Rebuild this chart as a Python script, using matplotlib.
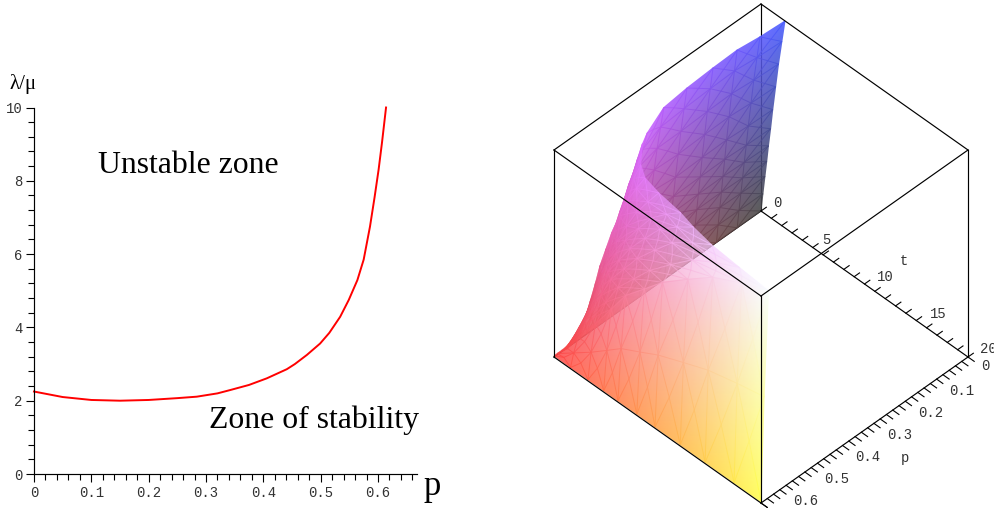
import numpy as np
import matplotlib
matplotlib.use("Agg")
import matplotlib.pyplot as plt

W, H = 995, 508

# ---- left panel data
curve_p = [0, .05, .10, .15, .20, .25, .284, .32, .342, .375, .406, .441, .455, .476, .499, .515, .534, .549, .564, .575, .586, .594, .601, .607, .614]
curve_v = [2.25, 2.1, 2.02, 2.0, 2.02, 2.07, 2.11, 2.2, 2.29, 2.43, 2.61, 2.86, 3.0, 3.25, 3.56, 3.85, 4.29, 4.75, 5.29, 5.85, 6.75, 7.55, 8.3, 9.05, 10]
left_xticks = [0, .1, .2, .3, .4, .5, .6]
left_xlabels = ["0", "0.1", "0.2", "0.3", "0.4", "0.5", "0.6"]
left_yticks = [0, 2, 4, 6, 8, 10]

# ---- right panel data (surface)
P_MAX, T_MAX, Z_MAX = 0.66, 20.0, 1.0
surface_p = [0, .076, .142, .221, .308, .389, .473, .505, .53, .555, .578, .59, .60, .612, .623, .63, .636]
surface_t_top = [2.32, 2.2, 2.0, 2.06, 2.18, 2.4, 3.34, 3.85, 4.5, 5.2, 6.3, 8.0, 10.4, 12.0, 14.1, 17.0, 20.0]
surface_u = [0, .08, .164, .24, .31, .40, .49, .61, .73, .87, 1]
rise_a = [0, .09, .18, .26, .34, .43, .53, .65, .77, .89, 1]
rise_b = [0, .095, .19, .275, .36, .45, .55, .665, .78, .895, 1]
rise_c = [0, .10, .20, .29, .38, .47, .57, .69, .80, .905, 1]
rise_d = [0, .10, .20, .295, .385, .48, .58, .70, .81, .91, 1]
rise_e = [0, .11, .22, .32, .42, .52, .62, .73, .83, .92, 1]
rise_f = [0, .125, .25, .375, .49, .585, .68, .78, .875, .945, 1]
surface_z = [rise_a, rise_a, rise_a, rise_a, rise_a, rise_b, rise_c, rise_c, rise_d,
             rise_d, rise_e, rise_e, rise_f, rise_f, rise_f, rise_f, rise_f]
wall_t = [0, 1.6, 3.28, 4.8, 6.18, 8, 9.76, 12.2, 14.6, 17.4, 20]
wall_top = [.006, .125, .25, .375, .49, .585, .68, .78, .875, .945, 1]
wall_p = [.66, .65, .636]
wall_v = [0, .5, 1]
t_ticks = list(range(0, 21))
t_labels = {0: "0", 5: "5", 10: "10", 15: "15", 20: "20"}
p_ticks = [round(i * .02, 2) for i in range(0, 34)]
p_labels = {0: "0", .1: "0.1", .2: "0.2", .3: "0.3", .4: "0.4", .5: "0.5", .6: "0.6"}

fig = plt.figure(figsize=(W / 100, H / 100), dpi=100, facecolor="white")
SERIF = "Liberation Serif"
MONO = "Liberation Mono"

# ---------------- left panel
L, R, T, B = 34, 417, 107.5, 474
ax = fig.add_axes([L / W, 1 - B / H, (R - L) / W, (B - T) / H])
ax.set_xlim(0, .668)
ax.set_ylim(0, 10)
ax.plot(curve_p, curve_v, color="#ff0000", lw=1.4, clip_on=False)
for s in ("top", "right"):
    ax.spines[s].set_visible(False)
for s in ("left", "bottom"):
    ax.spines[s].set_linewidth(.85)
ax.set_xticks(left_xticks, left_xlabels, family=MONO, fontsize=10, color="#333333")
ax.set_yticks(left_yticks, [str(v) for v in left_yticks], family=MONO, fontsize=10, color="#333333")
ax.set_xticks(np.arange(0, .67, .02), minor=True)
ax.set_yticks(np.arange(0, 10.01, .4), minor=True)
ax.tick_params(which="major", length=6, width=.8, pad=2.5)
ax.tick_params(which="minor", length=4.5, width=.8)
ax.text(.112, 8.41, "Unstable zone", family=SERIF, fontsize=22.9, va="center", ha="left")
ax.text(.3045, 1.46, "Zone of stability", family=SERIF, fontsize=22.9, va="center", ha="left")
ax.text(.695, -.33, "p", family=SERIF, fontsize=25, va="center", ha="center", clip_on=False)
ax.text(-.042, 10.63, "λ/μ", family=SERIF, fontsize=15, va="center", ha="left", clip_on=False)

# ---------------- right panel: own projection of (p, t, z) to pixels
ov = fig.add_axes([0, 0, 1, 1])
ov.set_xlim(0, W)
ov.set_ylim(H, 0)
ov.axis("off")
ov.patch.set_alpha(0)


def proj(p, t, z):
    q = np.asarray(p, float) / P_MAX
    s = np.asarray(t, float) / T_MAX
    zn = np.asarray(z, float) / Z_MAX
    return 761 + 207 * (s - q), 211 + 146 * (s + q) - 207 * zn


def shade(p, t, z, alpha):
    base = .27
    rgb = np.stack([np.asarray(p) / P_MAX, np.asarray(t) / T_MAX, np.asarray(z) / Z_MAX], axis=-1)
    rgb = base + (1 - base) * np.clip(rgb, 0, 1)
    a = np.full(rgb.shape[:-1] + (1,), alpha)
    return np.concatenate([rgb, a], axis=-1)


def mesh(p, t, z, alpha, zo):
    x, y = proj(p, t, z)
    ov.pcolormesh(x, y, shade(p, t, z, alpha), shading="gouraud", zorder=zo, antialiased=True)


def seg(a, b, zo=5, **kw):
    xa, ya = proj(*a)
    xb, yb = proj(*b)
    kw.setdefault("color", "black")
    kw.setdefault("lw", .85)
    ov.plot([xa, xb], [ya, yb], zorder=zo, solid_capstyle="projecting", **kw)


# back box edges sit behind the surface
seg((0, 0, 0), (0, 0, Z_MAX), zo=1)
seg((0, 0, 0), (P_MAX, 0, 0), zo=1)

sp = np.array(surface_p)
st = np.array(surface_t_top)
su = np.array(surface_u)
sz = np.array(surface_z)
Pm = np.repeat(sp[:, None], len(su), axis=1)
Tm = st[:, None] * su[None, :]
split = 8
mesh(Pm[:split + 1], Tm[:split + 1], sz[:split + 1], .88, 2)
mesh(Pm[split:], Tm[split:], sz[split:], .72, 3)

wt = np.array(wall_t)
wz = np.array(wall_top)
wp = np.array(wall_p)
wv = np.array(wall_v)
Wp = np.repeat(wp[:, None], len(wt), axis=1)
Wt = np.repeat(wt[None, :], len(wv), axis=0)
Wz = .006 + wv[:, None] * (wz[None, :] - .006)
mesh(Wp, Wt, Wz, .85, 4)

# front box edges
Pm_, Tm_, Zm_ = P_MAX, T_MAX, Z_MAX
for a, b in [
    ((0, 0, Zm_), (Pm_, 0, Zm_)), ((0, 0, Zm_), (0, Tm_, Zm_)),
    ((Pm_, 0, Zm_), (Pm_, Tm_, Zm_)), ((0, Tm_, Zm_), (Pm_, Tm_, Zm_)),
    ((Pm_, 0, 0), (Pm_, 0, Zm_)), ((0, Tm_, 0), (0, Tm_, Zm_)), ((Pm_, Tm_, 0), (Pm_, Tm_, Zm_)),
    ((Pm_, 0, 0), (Pm_, Tm_, 0)), ((0, Tm_, 0), (Pm_, Tm_, 0)), ((0, 0, 0), (0, Tm_, 0)),
]:
    seg(a, b)

# axis ticks and labels
for t in t_ticks:
    seg((0, t, 0), (-.017, t, 0), lw=.8)
for p in p_ticks:
    seg((p, T_MAX, 0), (p, T_MAX + .6, 0), lw=.8)
seg((P_MAX, T_MAX, 0), (P_MAX, T_MAX + .6, 0), lw=.8)

t_off = {0: (16, -8), 5: (14, -7), 10: (21, -7), 15: (22, -7), 20: (20, -8)}
for t, lab in t_labels.items():
    x, y = proj(0, t, 0)
    ov.text(x + t_off[t][0], y + t_off[t][1], lab, family=MONO, fontsize=10, color="#333333",
            ha="center", va="center", clip_on=True)
for p, lab in p_labels.items():
    x, y = proj(p, T_MAX, 0)
    dx = 17 if p == 0 else 25.5
    ov.text(x + dx, y + (9 if p == 0 else 11.5), lab, family=MONO, fontsize=10, color="#333333", ha="center", va="center")
ov.text(904, 261, "t", family=MONO, fontsize=10, color="#333333", ha="center", va="center")
ov.text(905, 458, "p", family=MONO, fontsize=10, color="#333333", ha="center", va="center")

fig.savefig("out.png", dpi=100)
